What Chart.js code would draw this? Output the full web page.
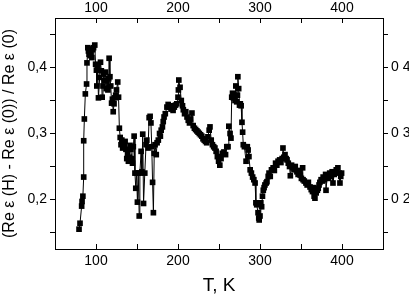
<!DOCTYPE html>
<html><head><meta charset="utf-8">
<script src="https://cdn.jsdelivr.net/npm/chart.js@4"></script>
<style>html,body{margin:0;padding:0;background:#fff}#w{width:409px;height:297px}</style>
</head><body><div id="w"><canvas id="c"></canvas></div>
<script>
const temps = [79.3,80.5,82.5,83.0,84.0,85.0,85.0,85.8,87.0,88.5,89.0,90.0,90.8,91.5,92.0,93.0,94.0,95.0,96.0,97.0,98.5,99.5,100.5,101.0,102.0,103.0,104.5,105.5,106.5,107.5,108.5,109.5,110.5,111.5,112.5,113.5,114.5,115.5,116.0,117.0,118.0,119.0,120.0,121.0,122.0,123.0,124.0,125.0,126.5,127.5,128.5,129.5,130.5,131.5,132.5,133.5,134.5,135.5,136.5,137.5,138.5,139.5,140.5,141.5,142.5,143.5,144.5,145.5,146.5,147.5,148.5,149.5,150.5,151.5,152.7,153.5,155.0,156.0,157.0,158.0,159.5,161.0,162.0,163.5,164.8,166.0,167.0,168.0,169.0,170.0,171.0,172.0,173.5,174.5,176.0,177.5,178.5,179.5,181.0,182.0,183.0,184.5,186.5,188.0,190.0,191.5,193.0,194.0,195.5,197.0,198.5,200.0,200.5,201.0,202.5,204.0,205.5,206.5,208.0,209.5,211.0,212.5,214.0,215.5,217.0,218.5,220.0,221.5,223.0,224.5,226.0,227.5,229.0,230.5,232.0,233.5,235.0,236.5,238.0,239.0,240.5,242.0,243.5,245.0,246.5,248.0,249.5,251.0,252.5,254.0,256.0,258.0,259.5,261.0,262.0,263.5,264.6,265.5,266.5,267.6,268.5,269.5,270.5,271.6,272.5,273.0,274.0,275.0,276.0,277.0,278.0,278.8,279.6,281.0,283.0,284.5,285.5,286.5,288.0,289.5,291.0,292.5,294.0,295.0,296.0,297.6,298.5,299.0,300.0,301.0,302.0,303.0,304.0,305.0,306.0,307.5,308.5,310.0,311.0,312.5,314.0,316.0,317.5,319.0,320.5,322.0,324.0,325.5,327.0,328.0,329.0,330.5,332.0,333.0,334.5,336.0,337.0,338.5,340.0,341.5,343.0,345.0,346.5,348.0,349.0,350.5,352.0,352.5,354.0,356.0,357.5,359.0,361.0,362.5,364.0,365.0,366.0,367.0,368.5,370.0,371.0,372.0,373.0,374.5,376.0,377.0,378.5,380.0,380.5,382.0,383.5,385.0,386.5,388.0,389.0,390.5,391.5,393.0,395.0,396.5,397.5,398.5,399.5];
const ratio = [0.155,0.164,0.190,0.197,0.205,0.234,0.289,0.322,0.360,0.375,0.407,0.430,0.425,0.420,0.428,0.418,0.423,0.415,0.427,0.430,0.434,0.405,0.396,0.372,0.401,0.354,0.385,0.408,0.395,0.355,0.372,0.390,0.380,0.393,0.368,0.380,0.366,0.383,0.414,0.386,0.372,0.346,0.352,0.333,0.345,0.354,0.358,0.366,0.378,0.355,0.308,0.294,0.283,0.290,0.278,0.285,0.281,0.288,0.276,0.262,0.270,0.258,0.264,0.282,0.276,0.262,0.255,0.280,0.296,0.240,0.217,0.240,0.196,0.240,0.175,0.240,0.273,0.242,0.299,0.194,0.240,0.283,0.290,0.278,0.324,0.326,0.316,0.280,0.226,0.180,0.270,0.283,0.268,0.286,0.290,0.300,0.296,0.305,0.310,0.318,0.325,0.330,0.340,0.344,0.340,0.337,0.342,0.335,0.340,0.343,0.345,0.355,0.366,0.381,0.370,0.350,0.342,0.336,0.330,0.333,0.325,0.320,0.316,0.322,0.331,0.312,0.308,0.306,0.304,0.302,0.300,0.298,0.296,0.292,0.290,0.288,0.286,0.295,0.305,0.310,0.290,0.283,0.280,0.278,0.273,0.265,0.258,0.252,0.262,0.270,0.272,0.268,0.280,0.280,0.311,0.300,0.293,0.355,0.361,0.354,0.358,0.350,0.372,0.348,0.358,0.386,0.368,0.343,0.345,0.342,0.317,0.302,0.283,0.280,0.258,0.280,0.275,0.265,0.245,0.240,0.234,0.230,0.225,0.195,0.192,0.180,0.172,0.169,0.175,0.195,0.189,0.205,0.214,0.218,0.222,0.225,0.227,0.235,0.240,0.235,0.245,0.248,0.244,0.255,0.252,0.258,0.260,0.256,0.262,0.278,0.264,0.268,0.262,0.260,0.255,0.250,0.236,0.252,0.248,0.245,0.250,0.242,0.238,0.244,0.237,0.232,0.248,0.230,0.228,0.225,0.222,0.226,0.219,0.215,0.212,0.218,0.205,0.202,0.210,0.214,0.217,0.222,0.226,0.230,0.228,0.234,0.230,0.238,0.214,0.236,0.232,0.240,0.235,0.242,0.225,0.238,0.242,0.245,0.248,0.240,0.225,0.235,0.240];
const xMajor = [100,200,300,400];
const yTicks = [0.15,0.2,0.25,0.3,0.35,0.4,0.45];
const yMajorLeft = ['0,2','0,3','0,4'];
const yMajorRight = ['0 2','0 3','0 4'];

const pts = temps.map((t,i)=>({x:t,y:ratio[i]}));
const F = '"Liberation Sans", Arial, sans-serif';
function yLab(v, arr){
  const k = Math.round(v*100);
  if (k===20) return arr[0]; if (k===30) return arr[1]; if (k===40) return arr[2];
  return '';
}
const setY = s => { s.ticks = yTicks.map(v => ({ value: v })); };
new Chart(document.getElementById('c'), {
  type: 'scatter',
  data: { datasets: [{
    data: pts, showLine: true, borderColor: '#000', borderWidth: 1,
    backgroundColor: '#000', pointStyle: 'rect', pointRadius: 4, pointBorderWidth: 0,
    pointHoverRadius: 4
  }]},
  options: {
    responsive: true, maintainAspectRatio: false, animation: false,
    layout: { padding: 0 },
    plugins: { legend: { display: false }, tooltip: { enabled: false } },
    scales: {
      x: {
        type: 'linear', position: 'bottom', min: 50, max: 450,
        afterFit: s => { s.height = 48; },
        ticks: { stepSize: 50, autoSkip: false, maxRotation: 0, color: '#000', padding: 9,
          font: { family: F, size: 14 },
          callback: v => xMajor.includes(v) ? String(v) : '' },
        grid: { drawOnChartArea: false, tickLength: -5, color: '#000', lineWidth: 1 },
        border: { color: '#000', width: 1 },
        title: { display: true, text: 'T, K', color: '#000', font: { family: F, size: 19 }, padding: { top: 0, bottom: 0 } }
      },
      x2: {
        type: 'linear', position: 'top', min: 50, max: 450,
        afterFit: s => { s.height = 18; },
        ticks: { stepSize: 50, autoSkip: false, maxRotation: 0, color: '#000', padding: 6,
          font: { family: F, size: 14 },
          callback: v => xMajor.includes(v) ? String(v) : '' },
        grid: { drawOnChartArea: false, tickLength: -5, color: '#000', lineWidth: 1 },
        border: { color: '#000', width: 1 }
      },
      y: {
        type: 'linear', position: 'left', min: 0.125, max: 0.475,
        afterBuildTicks: setY,
        afterFit: s => { s.width = 55; },
        ticks: { autoSkip: false, color: '#000', padding: 3,
          font: { family: F, size: 14 },
          callback: v => yLab(v, yMajorLeft) },
        grid: { drawOnChartArea: false, tickLength: 5, color: '#000', lineWidth: 1 },
        border: { color: '#000', width: 1 },
        title: { display: true, text: '(Re ε (H) - Re ε (0)) / Re ε (0)', color: '#000', font: { family: F, size: 16 }, padding: { top: 0, bottom: 0 } }
      },
      y2: {
        type: 'linear', position: 'right', min: 0.125, max: 0.475,
        afterBuildTicks: setY,
        afterFit: s => { s.width = 26; },
        ticks: { autoSkip: false, color: '#000', padding: 3,
          font: { family: F, size: 14 },
          callback: v => yLab(v, yMajorRight) },
        grid: { drawOnChartArea: false, tickLength: 5, color: '#000', lineWidth: 1 },
        border: { color: '#000', width: 1 }
      }
    }
  }
});
</script></body></html>
